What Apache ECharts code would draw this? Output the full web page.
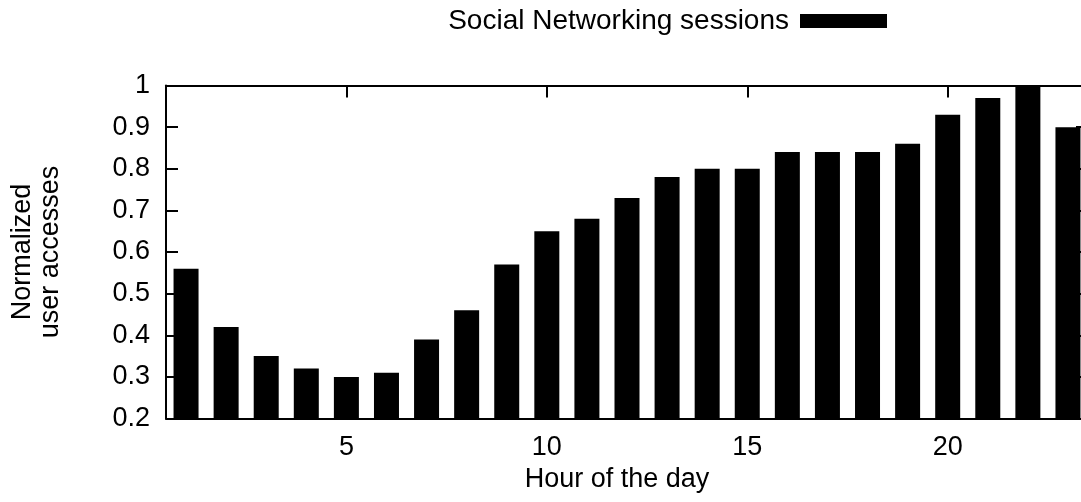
<!DOCTYPE html>
<html>
<head>
<meta charset="utf-8">
<script src="https://cdn.jsdelivr.net/npm/echarts@6/dist/echarts.min.js"></script>
<style>
html,body{margin:0;padding:0;background:#fff;}
#chart{width:1081px;height:502px;}
</style>
</head>
<body>
<div id="chart"></div>
<script>
const hours = [1,2,3,4,5,6,7,8,9,10,11,12,13,14,15,16,17,18,19,20,21,22,23];
const sessions = [0.56,0.42,0.35,0.32,0.30,0.31,0.39,0.46,0.57,0.65,0.68,0.73,0.78,0.80,0.80,0.84,0.84,0.84,0.86,0.93,0.97,1.00,0.90];
const xTicks = [5,10,15,20];
const seriesName = 'Social Networking sessions';
const xTitle = 'Hour of the day';
const yTitle = 'Normalized\nuser accesses';

const FONT = '"Liberation Sans", Arial, Helvetica, sans-serif';
const chart = echarts.init(document.getElementById('chart'), null, {renderer: 'canvas'});
const lineStyle = {color: '#000', width: 2};
chart.setOption({
  animation: false,
  backgroundColor: '#fff',
  legend: {
    right: 189, top: 2,
    align: 'right',
    icon: 'rect',
    itemWidth: 87, itemHeight: 14,
    textStyle: {fontFamily: FONT, fontSize: 28, color: '#000', padding: [0, 6, 0, 0]},
    data: [seriesName]
  },
  grid: {left: 166, top: 85.5, right: -7, bottom: 83.5, containLabel: false, outerBoundsMode: 'none'},
  xAxis: [{
    type: 'value', min: 0.5, max: 23.5,
    position: 'bottom',
    name: xTitle, nameLocation: 'middle', nameGap: 48,
    nameTextStyle: {fontFamily: FONT, fontSize: 27, color: '#000', padding: [0, 20, 0, 0]},
    axisLine: {show: true, lineStyle: lineStyle},
    axisTick: {show: true, inside: true, length: 12, customValues: xTicks, lineStyle: lineStyle},
    axisLabel: {customValues: xTicks, fontFamily: FONT, fontSize: 27, color: '#000', margin: 16},
    splitLine: {show: false}
  }, {
    type: 'value', min: 0.5, max: 23.5,
    position: 'top',
    axisLine: {show: true, lineStyle: lineStyle},
    axisTick: {show: true, inside: true, length: 12, customValues: xTicks, lineStyle: lineStyle},
    axisLabel: {show: false},
    splitLine: {show: false}
  }],
  yAxis: [{
    type: 'value', min: 0.2, max: 1, interval: 0.1,
    position: 'left',
    name: yTitle, nameLocation: 'middle', nameGap: 101, nameRotate: 90,
    nameTextStyle: {fontFamily: FONT, fontSize: 27, color: '#000', lineHeight: 28},
    axisLine: {show: true, lineStyle: lineStyle},
    axisTick: {show: true, inside: true, length: 12, lineStyle: lineStyle},
    axisLabel: {fontFamily: FONT, fontSize: 27, color: '#000', margin: 16,
      formatter: v => String(parseFloat(v.toFixed(1)))},
    splitLine: {show: false}
  }, {
    type: 'value', min: 0.2, max: 1, interval: 0.1,
    position: 'right',
    axisLine: {show: true, lineStyle: lineStyle},
    axisTick: {show: true, inside: true, length: 12, lineStyle: lineStyle},
    axisLabel: {show: false},
    splitLine: {show: false}
  }],
  series: [{
    name: seriesName,
    type: 'bar',
    xAxisIndex: 0, yAxisIndex: 0,
    barWidth: 25,
    itemStyle: {color: '#000'},
    data: hours.map((h, i) => [h, sessions[i]])
  }]
});
</script>
</body>
</html>
